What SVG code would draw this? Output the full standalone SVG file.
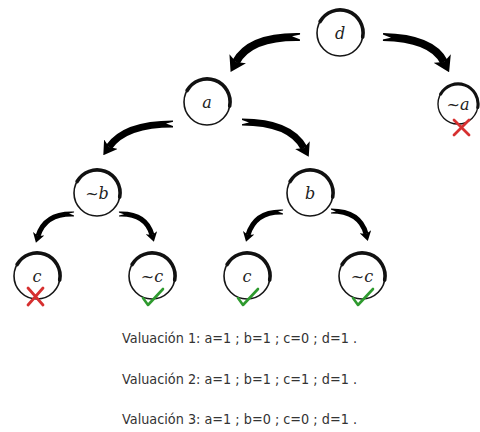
<svg xmlns="http://www.w3.org/2000/svg" xmlns:xlink="http://www.w3.org/1999/xlink" width="480" height="432" viewBox="0 0 480 432">
<style>
.ring{fill:#fff;stroke:#151515;stroke-width:1.6}
.brush{fill:none;stroke:#111;stroke-width:3.6;stroke-linecap:round}
.lbl{font-family:"DejaVu Serif","Liberation Serif",serif;font-style:italic;font-size:16px;fill:#222;text-anchor:middle}
.arr{fill:none;stroke:#000;stroke-linecap:butt;marker-end:url(#head);marker-start:url(#notch)}
.ok{fill:none;stroke:#2e9a2e;stroke-width:2.6;stroke-linecap:round;stroke-linejoin:round}
.no{fill:none;stroke:#d63030;stroke-width:2.8;stroke-linecap:round}
.val{font-family:"DejaVu Sans","Liberation Sans",sans-serif;font-size:13.5px;fill:#333}
</style>
<defs>
<marker id="head" viewBox="0 0 8 10" markerWidth="1.9" markerHeight="2.4" refX="2" refY="5" orient="auto">
<path d="M0,0 L8,5 L0,10 L2,5 z" fill="#000"/>
</marker>
<marker id="notch" viewBox="-5 -5 10 10" markerWidth="2" markerHeight="2" refX="0" refY="0" orient="auto" markerUnits="strokeWidth" overflow="visible">
<path d="M-1,-1.8 L5,0.4 L-1,1.8 z" fill="#fff"/>
</marker>
<g id="node">
<circle class="ring" r="23"/>
<path class="brush" d="M-19.9,-11.5 A23,23 0 0 1 22.7,4"/>
</g>
</defs>
<g id="connectors">
<path class="arr" stroke-width="8" d="M300,37 Q250,36 236,62"/>
<path class="arr" stroke-width="8" d="M383,37 Q432,38 444,62"/>
<path class="arr" stroke-width="7" d="M173,124 Q125,124 109,147"/>
<path class="arr" stroke-width="7" d="M242,122 Q290,122 304,148"/>
<path class="arr" stroke-width="5" d="M74,214 Q45,213 38,236"/>
<path class="arr" stroke-width="5" d="M119,214 Q146,213 152,235"/>
<path class="arr" stroke-width="5" d="M283,212 Q255,211 248,235"/>
<path class="arr" stroke-width="5" d="M331,211 Q360,211 366,234"/>
</g>
<g id="n-d" transform="translate(340,33)"><use xlink:href="#node"/><text class="lbl" y="6">d</text></g>
<g id="n-a" transform="translate(207,102)"><use xlink:href="#node"/><text class="lbl" y="6">a</text></g>
<g id="n-na" transform="translate(458,104)"><use xlink:href="#node" transform="scale(0.87)"/><text class="lbl" y="6">~a</text><path class="no" d="M-4,16 L11,31 M11,16 L-4,31"/></g>
<g id="n-nb" transform="translate(97,193)"><use xlink:href="#node"/><text class="lbl" y="6">~b</text></g>
<g id="n-b" transform="translate(310,193)"><use xlink:href="#node"/><text class="lbl" y="6">b</text></g>
<g id="n-c1" transform="translate(37,276)"><use xlink:href="#node"/><text class="lbl" y="6">c</text><path class="no" d="M-9,12 L6,29 M6,12 L-9,29"/></g>
<g id="n-nc1" transform="translate(152,276)"><use xlink:href="#node"/><text class="lbl" y="6">~c</text><path class="ok" d="M-9,22 L-4,29 L11,13"/></g>
<g id="n-c2" transform="translate(247,276)"><use xlink:href="#node"/><text class="lbl" y="6">c</text><path class="ok" d="M-9,22 L-4,29 L11,13"/></g>
<g id="n-nc2" transform="translate(362,276)"><use xlink:href="#node"/><text class="lbl" y="6">~c</text><path class="ok" d="M-9,22 L-4,29 L11,13"/></g>
<g id="valuaciones">
<text class="val" x="122" y="343" textLength="235" lengthAdjust="spacingAndGlyphs">Valuación 1: a=1 ; b=1 ; c=0 ; d=1 .</text>
<text class="val" x="122" y="384" textLength="235" lengthAdjust="spacingAndGlyphs">Valuación 2: a=1 ; b=1 ; c=1 ; d=1 .</text>
<text class="val" x="122" y="424" textLength="235" lengthAdjust="spacingAndGlyphs">Valuación 3: a=1 ; b=0 ; c=0 ; d=1 .</text>
</g>
</svg>
